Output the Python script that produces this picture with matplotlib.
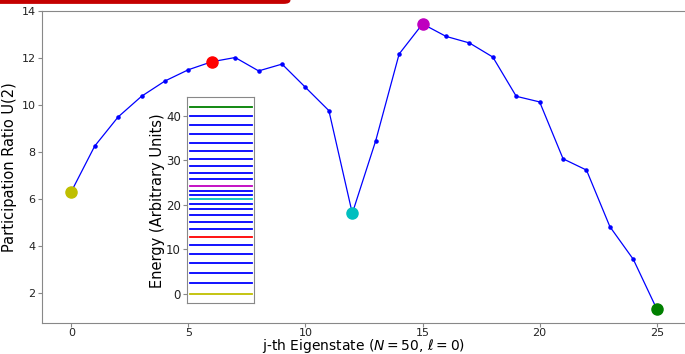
import matplotlib
matplotlib.use("Agg")
import matplotlib.pyplot as plt
from matplotlib.patches import FancyBboxPatch

# Data
states = list(range(26))
participation = [6.29, 8.23, 9.47, 10.35, 11.00, 11.48, 11.82, 12.00, 11.43, 11.72,
                 10.73, 9.74, 5.37, 8.46, 12.15, 13.43, 12.90, 12.62, 12.02, 10.35,
                 10.11, 7.69, 7.21, 4.80, 3.41, 1.30]
energies = [0.0, 2.4, 4.7, 6.9, 8.9, 10.9, 12.8, 14.5, 16.1, 17.7, 19.0, 20.2, 21.3,
            22.2, 23.2, 24.3, 25.7, 27.1, 28.7, 30.3, 32.0, 33.9, 35.8, 37.9, 39.9, 42.0]
highlight_states = [0, 6, 12, 15, 25]
highlight_colors = ['y', 'r', 'c', 'm', 'g']
x_ticks = [0, 5, 10, 15, 20, 25]

fig = plt.figure(figsize=(6.85, 3.54), dpi=100)

# red decorative bar at top-left
bar = FancyBboxPatch((-0.01, 0.989), 0.434, 0.03, boxstyle="round,pad=0,rounding_size=0.01",
                     transform=fig.transFigure, facecolor='#c40000', edgecolor='none')
fig.patches.append(bar)

ax = fig.add_axes([0.0613, 0.0867, 0.9387 + 0.0015, 0.8836])
ax.plot(states, participation, 'b.-', lw=0.9, ms=4.5)
for s, c in zip(highlight_states, highlight_colors):
    ax.plot(states[s], participation[s], 'o', color=c, ms=8, zorder=5)
ax.set_xlim(-1.25, 26.25)
ax.set_ylim(0.69, 14.0)
ax.set_xticks(x_ticks)
ax.set_yticks([2, 4, 6, 8, 10, 12, 14])
ax.set_xlabel(r"j-th Eigenstate ($N=50$, $\ell=0$)", fontsize=10)
ax.xaxis.set_label_coords(0.5, -0.044)
ax.set_ylabel("Participation Ratio U(2)", fontsize=10.5, labelpad=3)
ax.spines['right'].set_visible(False)
for sp in ax.spines.values():
    sp.set_color('#888888')
ax.tick_params(colors='#888888', labelcolor='#222222', labelsize=8, length=3, pad=1.5)
ax.tick_params(axis='x', pad=0.5)

# inset energy levels
ins = fig.add_axes([0.2734, 0.1432, 0.0974, 0.5819])
level_colors = ['b'] * len(energies)
for s, c in zip(highlight_states, highlight_colors):
    level_colors[s] = c
for e, c in zip(energies, level_colors):
    ins.plot([0, 1], [e, e], color=c, lw=1.3)
ins.set_xlim(-0.045, 1.03)
ins.set_ylim(-2.1, 44.1)
ins.set_xticks([])
ins.set_yticks([0, 10, 20, 30, 40])
ins.set_ylabel("Energy (Arbitrary Units)", fontsize=10.5, labelpad=1)
for sp in ins.spines.values():
    sp.set_color('#888888')
ins.tick_params(colors='#888888', labelcolor='#222222', labelsize=8.5, length=3, pad=1.5)

fig.savefig("out.png", dpi=100)
